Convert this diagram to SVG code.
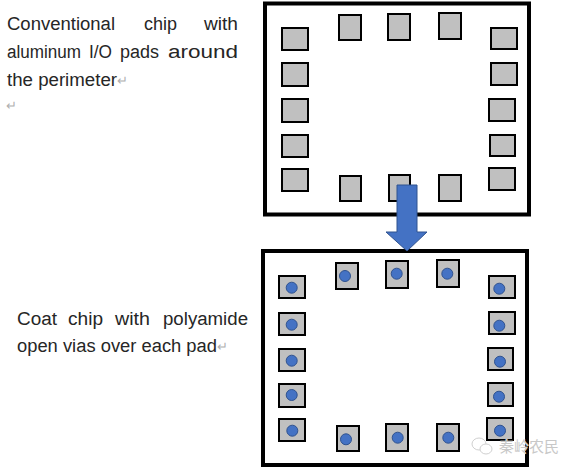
<svg xmlns="http://www.w3.org/2000/svg" width="573" height="471" viewBox="0 0 573 471">
<style>
.t{font-family:"Liberation Sans","Noto Sans CJK SC",sans-serif;font-size:18px;fill:#262626}
.rm{font-family:"Liberation Sans","Noto Sans CJK SC",sans-serif;font-size:13px;fill:#b0b0b0}
.chip{fill:#fff;stroke:#000;stroke-width:4}
.pad{fill:#c0c0c0;stroke:#000;stroke-width:2}
.via{fill:#4472c4;stroke:#2f528f;stroke-width:1}
.wm{font-family:"Noto Sans CJK SC",sans-serif;font-size:15px;fill:#c8c8c8;stroke:#fff;stroke-width:0.6;paint-order:stroke}
</style>
<rect width="573" height="471" fill="#fff"/>
<g id="text-top">
<text class="t" x="7" y="30" textLength="108" lengthAdjust="spacingAndGlyphs">Conventional</text>
<text class="t" x="144" y="30" textLength="33" lengthAdjust="spacingAndGlyphs">chip</text>
<text class="t" x="204" y="30" textLength="34" lengthAdjust="spacingAndGlyphs">with</text>
<text class="t" x="7" y="58" textLength="74" lengthAdjust="spacingAndGlyphs">aluminum</text>
<text class="t" x="89" y="58" textLength="23" lengthAdjust="spacingAndGlyphs">I/O</text>
<text class="t" x="120" y="58" textLength="39" lengthAdjust="spacingAndGlyphs">pads</text>
<text class="t" x="168" y="58" textLength="70" lengthAdjust="spacingAndGlyphs">around</text>
<text class="t" x="7" y="86" textLength="110" lengthAdjust="spacingAndGlyphs">the perimeter</text>
<text class="rm" x="117" y="85">↵</text>
<text class="rm" x="6" y="110">↵</text>
</g>
<g id="text-bottom">
<text class="t" x="17" y="325" textLength="40" lengthAdjust="spacingAndGlyphs">Coat</text>
<text class="t" x="68" y="325" textLength="35" lengthAdjust="spacingAndGlyphs">chip</text>
<text class="t" x="115" y="325" textLength="35" lengthAdjust="spacingAndGlyphs">with</text>
<text class="t" x="163" y="325" textLength="85" lengthAdjust="spacingAndGlyphs">polyamide</text>
<text class="t" x="17" y="352" textLength="200" lengthAdjust="spacingAndGlyphs">open vias over each pad</text>
<text class="rm" x="217" y="351">↵</text>
</g>
<g id="chip-top">
<rect class="chip" x="265" y="3.5" width="264" height="211"/>
<rect class="pad" x="282" y="28" width="26" height="22"/>
<rect class="pad" x="282" y="63" width="26" height="23"/>
<rect class="pad" x="282" y="99" width="26" height="23"/>
<rect class="pad" x="282" y="135" width="26" height="22"/>
<rect class="pad" x="282" y="169" width="26" height="22"/>
<rect class="pad" x="339" y="15" width="22" height="25"/>
<rect class="pad" x="388" y="14" width="22" height="26"/>
<rect class="pad" x="439" y="13" width="22" height="26"/>
<rect class="pad" x="491" y="28" width="26" height="21"/>
<rect class="pad" x="491" y="63" width="26" height="22"/>
<rect class="pad" x="489" y="99" width="26" height="22"/>
<rect class="pad" x="490" y="135" width="25" height="21"/>
<rect class="pad" x="489" y="168" width="26" height="22"/>
<rect class="pad" x="340" y="176" width="21" height="25"/>
<rect class="pad" x="389" y="175" width="21" height="26"/>
<rect class="pad" x="439" y="175" width="22" height="26"/>
</g>
<g id="chip-bottom">
<rect class="chip" x="263" y="251" width="264" height="214"/>
<rect class="pad" x="279" y="276" width="26" height="22"/><circle class="via" cx="291.7" cy="287.7" r="5.5"/>
<rect class="pad" x="279" y="313" width="26" height="22"/><circle class="via" cx="291.7" cy="324.7" r="5.5"/>
<rect class="pad" x="279" y="349" width="26" height="22"/><circle class="via" cx="291.7" cy="360.7" r="5.5"/>
<rect class="pad" x="279" y="384" width="26" height="23"/><circle class="via" cx="291.7" cy="395" r="5.5"/>
<rect class="pad" x="279" y="419" width="26" height="22"/><circle class="via" cx="292.3" cy="430.7" r="5.5"/>
<rect class="pad" x="336" y="263" width="22" height="26"/><circle class="via" cx="345" cy="276" r="5.5"/>
<rect class="pad" x="386" y="261" width="22" height="27"/><circle class="via" cx="396.7" cy="273.7" r="5.5"/>
<rect class="pad" x="437" y="260" width="22" height="27"/><circle class="via" cx="447.3" cy="273.7" r="5.5"/>
<rect class="pad" x="489" y="276" width="26" height="22"/><circle class="via" cx="499.3" cy="288.7" r="5.5"/>
<rect class="pad" x="489" y="312" width="26" height="22"/><circle class="via" cx="499.3" cy="325.7" r="5.5"/>
<rect class="pad" x="488" y="348" width="25" height="22"/><circle class="via" cx="500" cy="361.7" r="5.5"/>
<rect class="pad" x="488" y="383" width="25" height="23"/><circle class="via" cx="499" cy="396.7" r="5.5"/>
<rect class="pad" x="487" y="418" width="26" height="22"/><circle class="via" cx="500" cy="430.7" r="5.5"/>
<rect class="pad" x="337" y="426" width="22" height="25"/><circle class="via" cx="346" cy="439.3" r="5.5"/>
<rect class="pad" x="386" y="424" width="22" height="27"/><circle class="via" cx="397.7" cy="437.7" r="5.5"/>
<rect class="pad" x="437" y="424" width="22" height="27"/><circle class="via" cx="448.3" cy="437.7" r="5.5"/>
</g>
<g id="connectors">
<polygon points="397,185 417,185 417,232 427,232 407,251 386,232 397,232" fill="#4472c4" stroke="#2f528f" stroke-width="1"/>
</g>
<g id="watermark">
<ellipse cx="479" cy="444" rx="7" ry="6" fill="none" stroke="#d0d0d0" stroke-width="1"/>
<ellipse cx="486" cy="449" rx="6" ry="5" fill="#fff" stroke="#d0d0d0" stroke-width="1"/>
<text class="wm" x="499" y="452">秦岭农民</text>
</g>
</svg>
